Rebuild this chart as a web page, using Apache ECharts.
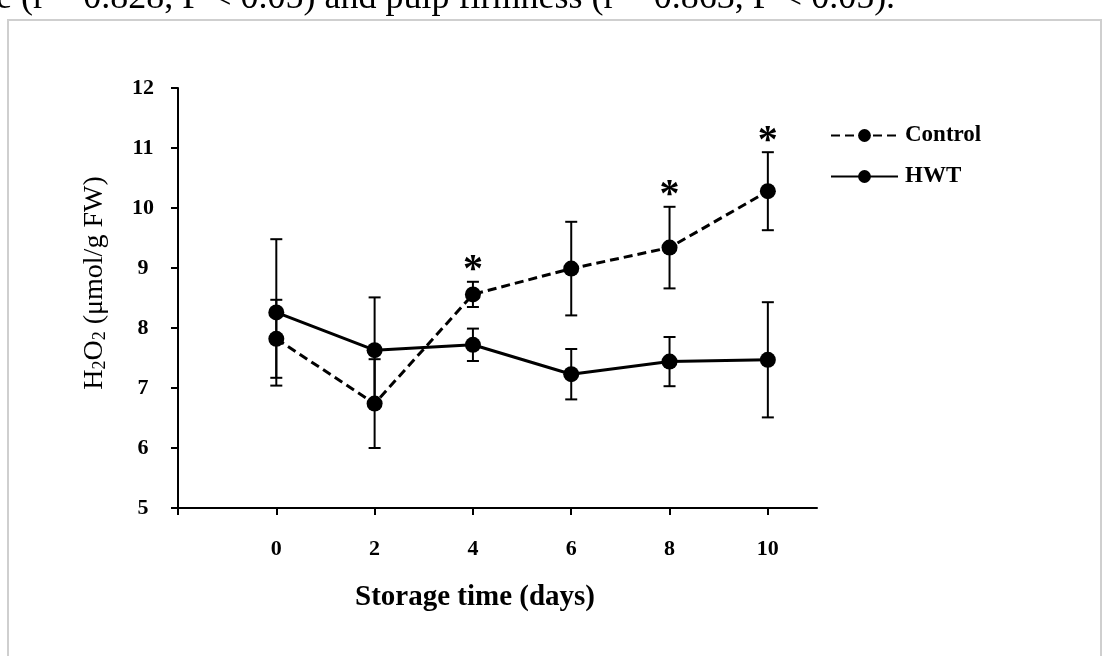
<!DOCTYPE html>
<html>
<head>
<meta charset="utf-8">
<script src="https://cdn.jsdelivr.net/npm/echarts@6/dist/echarts.min.js"></script>
<style>
  html, body { margin: 0; padding: 0; background: #fff; }
  #chart { width: 1103px; height: 656px; }
</style>
</head>
<body>
<div id="chart"></div>
<script>
// H2O2 content during storage: control vs hot-water treated (HWT) fruit
const days = [0, 2, 4, 6, 8, 10];
const controlMean = [7.82, 6.74, 8.56, 8.99, 9.34, 10.28];
const controlErr  = [0.65, 0.74, 0.21, 0.78, 0.68, 0.65];
const hwtMean     = [8.26, 7.63, 7.72, 7.23, 7.44, 7.47];
const hwtErr      = [1.22, 0.88, 0.27, 0.42, 0.41, 0.96];
const significant = [false, false, true, false, true, true];
const xTickValues  = [-2, 0, 2, 4, 6, 8, 10];
const xLabelValues = [0, 2, 4, 6, 8, 10];
const captionText = 'e (r = 0.828, P < 0.05) and pulp firmness (r = 0.863, P < 0.05).';

const SERIF = '"Liberation Serif", "Times New Roman", serif';

const pairs = (xs, ys) => xs.map((x, i) => [x, ys[i]]);
const bars = (xs, m, e) => xs.map((x, i) => [x, m[i] - e[i], m[i] + e[i]]);
const stars = days
  .map((d, i) => [d, controlMean[i] + controlErr[i]])
  .filter((_, i) => significant[i]);

function errorBarRender(params, api) {
  const x = api.value(0);
  const lo = api.coord([x, api.value(1)]);
  const hi = api.coord([x, api.value(2)]);
  const hw = 6;
  const style = { stroke: '#000', lineWidth: 2 };
  return {
    type: 'group',
    children: [
      { type: 'line', shape: { x1: lo[0], y1: lo[1], x2: hi[0], y2: hi[1] }, style },
      { type: 'line', shape: { x1: hi[0] - hw, y1: hi[1], x2: hi[0] + hw, y2: hi[1] }, style },
      { type: 'line', shape: { x1: lo[0] - hw, y1: lo[1], x2: lo[0] + hw, y2: lo[1] }, style }
    ]
  };
}

function starRender(params, api) {
  const p = api.coord([api.value(0), api.value(1)]);
  return {
    type: 'text',
    x: p[0],
    y: p[1] + 9,
    style: {
      text: '*',
      fill: '#000',
      font: 'bold 40px ' + SERIF,
      align: 'center',
      verticalAlign: 'bottom'
    }
  };
}

const chart = echarts.init(document.getElementById('chart'), null, { renderer: 'canvas' });

chart.setOption({
  backgroundColor: '#fff',
  animation: false,
  grid: { left: 178, right: 286, top: 88, bottom: 148, containLabel: false },
  xAxis: {
    type: 'value',
    min: -2,
    max: 11,
    interval: 2,
    splitLine: { show: false },
    axisLine: { show: true, onZero: false, lineStyle: { color: '#000', width: 2 } },
    axisTick: {
      show: true, inside: false, length: 7, customValues: xTickValues,
      lineStyle: { color: '#000', width: 2 }
    },
    axisLabel: {
      customValues: xLabelValues,
      margin: 30,
      color: '#000',
      fontFamily: SERIF,
      fontWeight: 'bold',
      fontSize: 22
    }
  },
  yAxis: {
    type: 'value',
    min: 5,
    max: 12,
    interval: 1,
    splitLine: { show: false },
    axisLine: { show: true, onZero: false, lineStyle: { color: '#000', width: 2 } },
    axisTick: { show: true, inside: false, length: 7, lineStyle: { color: '#000', width: 2 } },
    axisLabel: {
      margin: 35,
      align: 'center',
      color: '#000',
      fontFamily: SERIF,
      fontWeight: 'bold',
      fontSize: 22
    }
  },
  legend: {
    orient: 'vertical',
    left: 825,
    top: 119,
    itemWidth: 67,
    itemHeight: 16,
    itemGap: 18,
    data: ['Control', 'HWT'],
    textStyle: { color: '#000', fontFamily: SERIF, fontWeight: 'bold', fontSize: 23, padding: [0, 0, 0, 2] }
  },
  graphic: [
    {
      type: 'rect',
      shape: { x: 8, y: 20, width: 1093, height: 700 },
      style: { fill: 'none', stroke: '#cfcfcf', lineWidth: 2 },
      silent: true
    },
    {
      type: 'text',
      x: -4,
      y: 17,
      style: {
        text: captionText,
        fill: '#000',
        font: '36px ' + SERIF,
        verticalAlign: 'bottom'
      }
    },
    {
      type: 'text',
      x: 95,
      y: 283,
      rotation: Math.PI / 2,
      style: {
        text: 'H{sub|2}O{sub|2} (μmol/g FW)',
        fill: '#000',
        font: '28px ' + SERIF,
        align: 'center',
        verticalAlign: 'middle',
        rich: {
          sub: { fontSize: 18, fontFamily: SERIF, padding: [11, 0, 0, 0], fill: '#000' }
        }
      }
    },
    {
      type: 'text',
      x: 475,
      y: 598,
      style: {
        text: 'Storage time (days)',
        fill: '#000',
        font: 'bold 29px ' + SERIF,
        align: 'center',
        verticalAlign: 'middle'
      }
    }
  ],
  series: [
    {
      name: 'Control',
      type: 'line',
      data: pairs(days, controlMean),
      symbol: 'circle',
      symbolSize: 16,
      z: 5,
      itemStyle: { color: '#000' },
      lineStyle: { color: '#000', width: 3, type: [9, 5] }
    },
    {
      name: 'HWT',
      type: 'line',
      data: pairs(days, hwtMean),
      symbol: 'circle',
      symbolSize: 16,
      z: 5,
      itemStyle: { color: '#000' },
      lineStyle: { color: '#000', width: 3, type: 'solid' }
    },
    {
      name: 'Control error',
      type: 'custom',
      renderItem: errorBarRender,
      data: bars(days, controlMean, controlErr),
      encode: { x: 0, y: [1, 2] },
      z: 4
    },
    {
      name: 'HWT error',
      type: 'custom',
      renderItem: errorBarRender,
      data: bars(days, hwtMean, hwtErr),
      encode: { x: 0, y: [1, 2] },
      z: 4
    },
    {
      name: 'Significance',
      type: 'custom',
      renderItem: starRender,
      data: stars,
      encode: { x: 0, y: 1 },
      z: 6
    }
  ]
});
</script>
</body>
</html>
